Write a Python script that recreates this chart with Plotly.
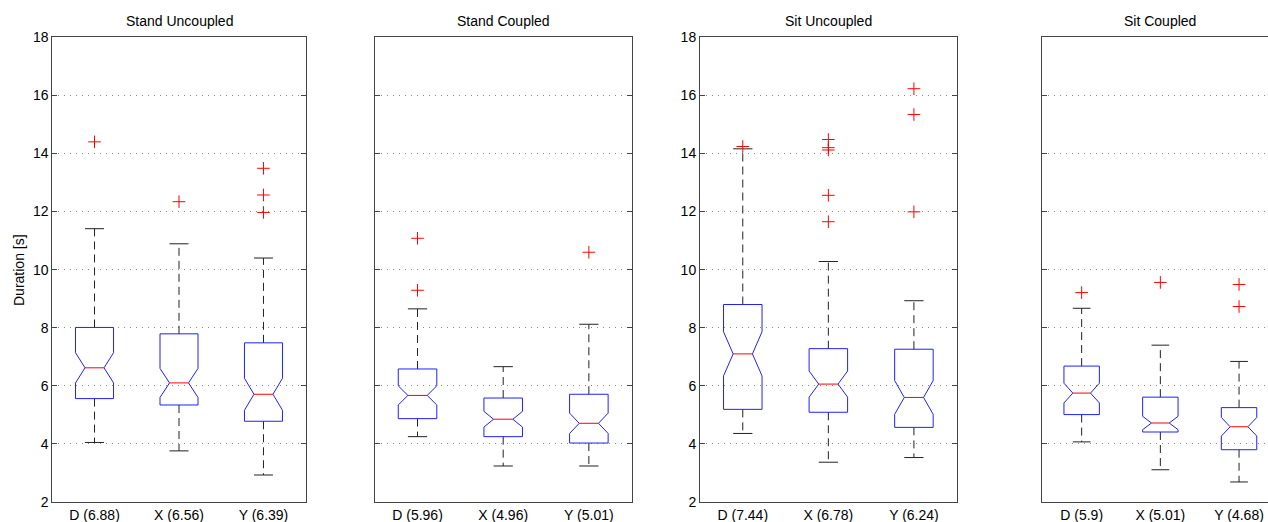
import plotly.graph_objects as go

# ---------------- data ----------------
titles = ["Stand Uncoupled", "Stand Coupled", "Sit Uncoupled", "Sit Coupled"]

labels_su = ["D (6.88)", "X (6.56)", "Y (6.39)"]
labels_sc = ["D (5.96)", "X (4.96)", "Y (5.01)"]
labels_siu = ["D (7.44)", "X (6.78)", "Y (6.24)"]
labels_sic = ["D (5.9)", "X (5.01)", "Y (4.68)"]

q1_su = [5.56, 5.34, 4.78]
med_su = [6.62, 6.10, 5.71]
q3_su = [8.01, 7.79, 7.48]
lw_su = [4.05, 3.76, 2.93]
uw_su = [11.41, 10.89, 10.40]
notch_su = [0.52, 0.50, 0.55]
out_su = [[14.40], [12.34], [13.49, 12.57, 11.97]]

q1_sc = [4.87, 4.25, 4.03]
med_sc = [5.67, 4.85, 4.71]
q3_sc = [6.58, 5.58, 5.71]
lw_sc = [4.25, 3.24, 3.24]
uw_sc = [8.65, 6.66, 8.12]
notch_sc = [0.33, 0.27, 0.35]
out_sc = [[11.08, 9.29], [], [10.60]]

q1_siu = [5.19, 5.09, 4.57]
med_siu = [7.10, 6.06, 5.60]
q3_siu = [8.80, 7.28, 7.26]
lw_siu = [4.36, 3.37, 3.53]
uw_siu = [14.16, 10.28, 8.93]
notch_siu = [0.76, 0.45, 0.58]
out_siu = [[14.24], [14.48, 14.20, 14.12, 12.56, 11.65], [16.23, 15.34, 11.99]]

q1_sic = [5.01, 4.41, 3.80]
med_sic = [5.75, 4.72, 4.59]
q3_sic = [6.68, 5.61, 5.25]
lw_sic = [4.07, 3.11, 2.69]
uw_sic = [8.67, 7.40, 6.84]
notch_sic = [0.34, 0.23, 0.32]
out_sic = [[9.21], [9.56], [9.49, 8.73]]

positions = [1, 2, 3]
y_ticks = [2, 4, 6, 8, 10, 12, 14, 16, 18]

panels = [
    (labels_su, q1_su, med_su, q3_su, lw_su, uw_su, notch_su, out_su),
    (labels_sc, q1_sc, med_sc, q3_sc, lw_sc, uw_sc, notch_sc, out_sc),
    (labels_siu, q1_siu, med_siu, q3_siu, lw_siu, uw_siu, notch_siu, out_siu),
    (labels_sic, q1_sic, med_sic, q3_sic, lw_sic, uw_sic, notch_sic, out_sic),
]

# ---------------- layout geometry ----------------
W, H = 1268, 522
panel_px = [(52.3, 305.7), (374.7, 631.7), (700.0, 956.7), (1042.3, 1268.0)]
slot4 = 78.7
x_ranges = [[0.5, 3.5], [0.5, 3.5], [0.5, 3.5], [0.5, 0.5 + (1268.0 - 1042.3) / slot4]]
title_cx = [(52.3 + 305.7) / 2, (374.7 + 631.7) / 2, (700.0 + 956.7) / 2, 1042.3 + 1.5 * slot4]
top_px, bot_px = 37.3, 502.0
y_dom = [1 - bot_px / H, 1 - top_px / H]

BOX_W = 0.45
HALF = BOX_W / 2
NOTCHW = 0.25
CAP = HALF * 0.5
MED_HALF = HALF * (1 - 2 * NOTCHW)

FONT = "Liberation Sans, Arial, Helvetica, sans-serif"
FRAME = "#444444"

fig = go.Figure()
layout = dict(
    width=W, height=H,
    margin=dict(l=0, r=0, t=0, b=0, pad=0),
    paper_bgcolor="white", plot_bgcolor="white",
    showlegend=False,
    font=dict(family=FONT, size=14, color="black"),
    annotations=[],
)

for i, (labs, q1, med, q3, lw, uw, nsp, outs) in enumerate(panels):
    k = "" if i == 0 else str(i + 1)
    xa, ya = "x" + k, "y" + k
    bx, by = [], []   # notched box outline
    wx, wy = [], []   # dashed whiskers
    cx, cy = [], []   # whisker caps
    mx, my = [], []   # medians
    for p, a, b, c, d, m, n in zip(positions, q1, q3, lw, uw, med, nsp):
        L, R = p - HALF, p + HALF
        bx += [L, R, R, p + MED_HALF, R, R, L, L, p - MED_HALF, L, L, None]
        by += [a, a, m - n, m, m + n, b, b, m + n, m, m - n, a, None]
        wx += [p, p, None, p, p, None]
        wy += [b, d, None, a, c, None]
        cx += [p - CAP, p + CAP, None, p - CAP, p + CAP, None]
        cy += [d, d, None, c, c, None]
        mx += [p - MED_HALF, p + MED_HALF, None]
        my += [m, m, None]
    fig.add_trace(go.Scatter(x=wx, y=wy, mode="lines", xaxis=xa, yaxis=ya,
                             line=dict(color="#222222", width=1, dash="8px,5px"),
                             hoverinfo="skip"))
    fig.add_trace(go.Scatter(x=cx, y=cy, mode="lines", xaxis=xa, yaxis=ya,
                             line=dict(color="#222222", width=1), hoverinfo="skip"))
    fig.add_trace(go.Scatter(x=bx, y=by, mode="lines", xaxis=xa, yaxis=ya,
                             line=dict(color="#2020ff", width=1), hoverinfo="skip"))
    fig.add_trace(go.Scatter(x=mx, y=my, mode="lines", xaxis=xa, yaxis=ya,
                             line=dict(color="#ff0000", width=1), hoverinfo="skip"))
    ox, oy = [], []
    for p, o in zip(positions, outs):
        ox += [p] * len(o)
        oy += o
    fig.add_trace(go.Scatter(x=ox, y=oy, mode="markers", xaxis=xa, yaxis=ya,
                             marker=dict(symbol="cross-thin", size=9,
                                         line=dict(color="#ff0000", width=1)),
                             hoverinfo="skip"))

    x0, x1 = panel_px[i]
    layout["xaxis" + k] = dict(
        domain=[x0 / W, x1 / W], range=x_ranges[i], anchor=ya, automargin=False,
        tickvals=positions, ticktext=labs, ticks="", showgrid=False,
        zeroline=False, showline=True, linecolor=FRAME, linewidth=1,
        mirror=True, tickfont=dict(size=14, color="black"), fixedrange=True,
    )
    layout["yaxis" + k] = dict(
        domain=y_dom, range=[2, 18], anchor=xa, automargin=False,
        tickvals=y_ticks, ticks="inside", ticklen=5, tickcolor=FRAME,
        showticklabels=(i in (0, 2)), showgrid=True, gridcolor="#8a8a8a",
        griddash="1px,5px", gridwidth=1, zeroline=False, showline=True,
        linecolor=FRAME, linewidth=1, mirror=("ticks" if i < 3 else False),
        tickfont=dict(size=14, color="black"), fixedrange=True,
    )
    layout["annotations"].append(dict(
        text=titles[i], x=title_cx[i] / W, y=1 - 21 / H, xref="paper", yref="paper",
        xanchor="center", yanchor="middle", showarrow=False,
        font=dict(size=14, color="black", family=FONT),
    ))

layout["annotations"].append(dict(
    text="Duration [s]", x=19 / W, y=1 - 270 / H, xref="paper", yref="paper",
    xanchor="center", yanchor="middle", textangle=-90, showarrow=False,
    font=dict(size=14, color="black", family=FONT),
))

fig.update_layout(**layout)
fig.write_html(
    "out.html",
    config={"displayModeBar": False, "staticPlot": True},
    post_script="document.body.style.margin='0px';document.body.style.overflow='hidden';",
)
